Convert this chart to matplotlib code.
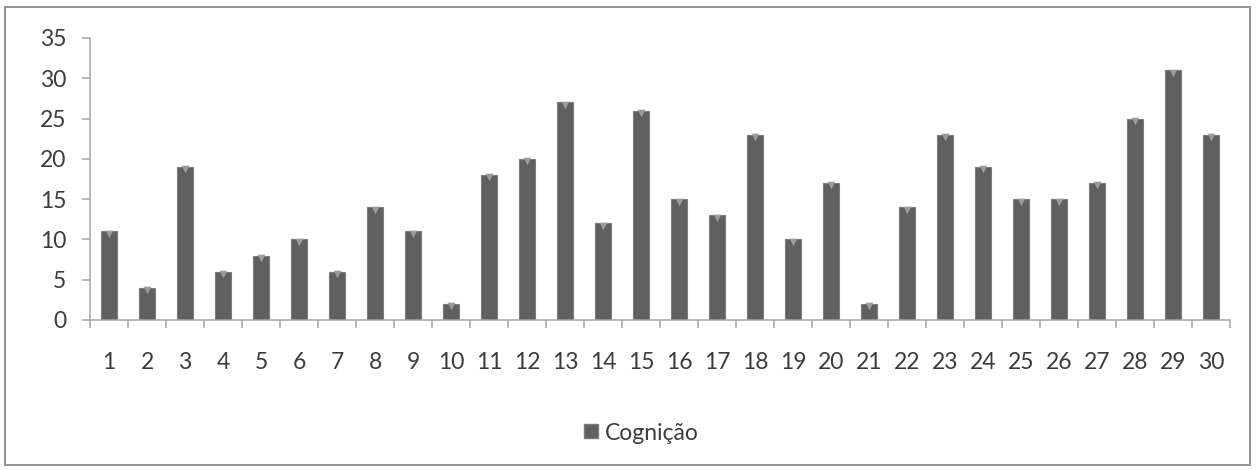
import matplotlib
matplotlib.use("Agg")
import matplotlib.pyplot as plt
from matplotlib.patches import Rectangle
from matplotlib.lines import Line2D
import numpy as np

categories = [str(i) for i in range(1, 31)]
cognicao = [11, 4, 19, 6, 8, 10, 6, 14, 11, 2, 18, 20, 27, 12, 26,
            15, 13, 23, 10, 17, 2, 14, 23, 19, 15, 15, 17, 25, 31, 23]
series_name = "Cognição"
y_ticks = [0, 5, 10, 15, 20, 25, 30, 35]

plt.rcParams['font.family'] = ['Lato', 'DejaVu Sans']

fig = plt.figure(figsize=(12.56, 4.70), dpi=100)
fig.patch.set_facecolor("white")

# outer chart frame
fig.patches.append(Rectangle((5 / 1256, 5 / 470), 1245 / 1256, 458 / 470,
                             transform=fig.transFigure, fill=False,
                             edgecolor="#8a8a8a", linewidth=1.3))

ax = fig.add_axes([90 / 1256, 1 - 320 / 470, 1140 / 1256, 282 / 470])
x = np.arange(len(categories))
bar_color = "#606060"
ax.bar(x, cognicao, width=0.44, color=bar_color, edgecolor="#7c7c7c",
       linewidth=0.8, zorder=2)
# light bevel highlight on each bar top
ax.scatter(x, np.array(cognicao) - 0.3, marker="v", s=30, color="#9c9c9c",
           linewidths=0, zorder=3)

ax.set_xlim(-0.5, len(categories) - 0.5)
ax.set_ylim(0, 35)
ax.set_yticks(y_ticks)
ax.set_yticklabels([str(v) for v in y_ticks])
ax.set_xticks(x)
ax.set_xticklabels(categories)
ax.set_xticks(np.arange(-0.5, len(categories), 1.0), minor=True)

for s in ["top", "right"]:
    ax.spines[s].set_visible(False)
for s in ["left", "bottom"]:
    ax.spines[s].set_color("#a6a6a6")
    ax.spines[s].set_linewidth(1.1)

ax.tick_params(axis="y", direction="out", length=6, width=1.1,
               color="#a6a6a6", labelsize=16.5, labelcolor="#3c3c3c", pad=11)
ax.tick_params(axis="x", which="major", length=0, labelsize=16.5,
               labelcolor="#3c3c3c", pad=23)
ax.tick_params(axis="x", which="minor", direction="out", length=6,
               width=1.1, color="#a6a6a6")

handle = Line2D([], [], marker="s", linestyle="none", markersize=10,
                markerfacecolor=bar_color, markeredgecolor="#7c7c7c")
fig.legend([handle], [series_name], loc="center", bbox_to_anchor=(638 / 1256, 1 - 433 / 470),
           frameon=False, fontsize=16.5, handletextpad=0.0, handlelength=1.2,
           labelcolor="#3c3c3c")

fig.savefig("out.png", dpi=100, facecolor="white")
